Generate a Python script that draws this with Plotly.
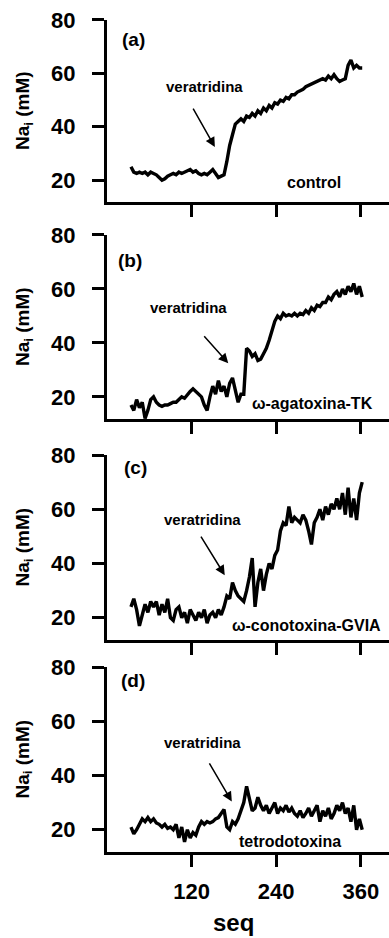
import plotly.graph_objects as go

# Time axis (s) shared by the four recordings
seq = list(range(34, 363, 4))

# Intracellular Na+ (mM) for each condition
na_control = [
    25, 23, 22.5, 23, 22.5, 23, 22, 23, 22.5, 22,
    21, 20, 20.5, 21.5, 22, 22.5, 22, 23, 22.5, 23,
    23.5, 24, 23, 23.5, 22.5, 22, 22.5, 22, 23, 24,
    22.5, 21, 21.5, 22, 27, 33, 37, 41, 42, 43,
    42, 44, 43.5, 45, 44, 46, 45, 47, 46, 48,
    47, 49, 48.5, 50, 49.5, 51, 50.5, 52, 52, 53,
    53.5, 54, 55, 55.5, 56, 56.5, 57, 57.5, 58, 57.5,
    59, 58, 59.5, 58, 57, 57.5, 58, 63, 65, 62,
    63, 62, 62,
]
na_agatoxin = [
    17, 15, 19, 16, 18, 12, 15, 19, 20, 18,
    17, 16.5, 17, 17, 17.5, 18, 18, 19, 20, 19.5,
    21, 22, 23, 22, 21, 20, 17, 15, 20, 24,
    21, 26, 22, 24, 20, 25, 27, 22, 18, 21,
    21, 38, 37, 35, 36, 33.5, 34, 36, 38, 41,
    45, 48, 50, 49, 51, 50, 50.5, 50, 51, 50,
    51, 50.5, 52, 51, 53, 52, 54, 53.5, 55, 55,
    57, 56, 58, 59, 57, 60, 58, 61, 59, 62,
    58, 61, 57,
]
na_conotoxin = [
    24, 27, 23, 17, 21, 25, 22, 26, 24, 26,
    21, 25, 22, 27, 20, 19, 23, 24, 20, 22,
    18, 23, 21, 19, 22, 20, 23, 18, 21, 22,
    20, 23, 21, 24, 28, 27, 33, 30, 28, 27,
    26, 30, 35, 42, 24, 33, 38, 30, 36, 40,
    38, 43, 45, 52, 55, 54, 61, 55, 57, 56,
    55, 58, 56, 52, 47, 55, 57, 60, 56, 61,
    58, 62, 60, 64, 60, 66, 58, 68, 57, 64,
    56, 66, 70,
]
na_ttx = [
    21, 18.5, 20, 22, 24, 23, 24.5, 23, 24, 22.5,
    22, 21, 22, 20.5, 21, 20, 22, 17, 21, 15.5,
    20, 17, 19, 18, 21, 23, 22, 23, 22.5, 23,
    24, 24.5, 26, 27.5, 21, 20, 23, 22, 24, 27,
    30, 36, 31, 27, 28, 32, 29, 27, 29, 26,
    28, 30, 26, 28, 27, 29, 26.5, 28, 26, 25,
    27, 24.5, 26, 28, 25, 27, 29, 23, 27, 25,
    28, 24, 26, 29, 27, 30, 26, 28, 23, 29,
    20, 24, 20,
]

series = [na_control, na_agatoxin, na_conotoxin, na_ttx]
panel_tags = ["(a)", "(b)", "(c)", "(d)"]
toxin_labels = ["control", "ω-agatoxina-TK", "ω-conotoxina-GVIA", "tetrodotoxina"]
y_ticks = [20, 40, 60, 80]
x_ticks = [120, 240, 360]

# Per-panel placement of the text labels and the veratridine arrow (data coords)
tag_pos = [(37, 72.5), (33, 70.6), (41, 75.5), (37, 75)]
verat_pos = [(139, 55), (115, 53.2), (136, 56.3), (135, 52)]
arrow_tail = [(121, 47.4), (136, 43), (132, 50.5), (144, 45)]
arrow_head = [(153, 32.4), (172, 32.5), (167, 35.7), (177, 30.4)]
toxin_pos = [(294, 19.3), (203, 17.7), (175, 17), (259, 15.5)]
toxin_anchor = ["center", "left", "left", "center"]

W, H = 389, 938
ML = 107                     # left margin (px); plot area spans ML..W
PW = W - ML
domains = [(0.7846, 0.9787), (0.5533, 0.7495), (0.3177, 0.5149), (0.0917, 0.2889)]


def px_to_paper_x(px):
    return (px - ML) / PW


FONT = "Liberation Sans, Arial, sans-serif"
fig = go.Figure()
annotations = []

for i, vals in enumerate(series):
    n = "" if i == 0 else str(i + 1)
    xa, ya = "x" + n, "y" + n
    fig.add_trace(go.Scatter(
        x=seq, y=vals, mode="lines", xaxis=xa, yaxis=ya,
        line=dict(color="black", width=3.4), showlegend=False,
        hoverinfo="skip",
    ))
    last = i == len(series) - 1
    fig.layout["xaxis" + n] = dict(
        domain=[0, 1], range=[0, 400], anchor=ya, automargin=False,
        tickvals=x_ticks, showticklabels=last,
        ticks="outside", ticklen=12, tickwidth=3, tickcolor="black",
        showline=True, linewidth=3, linecolor="black",
        showgrid=False, zeroline=False,
        tickfont=dict(family=FONT, size=22, color="black", weight="bold"),
        ticklabelstandoff=6,
    )
    fig.layout["yaxis" + n] = dict(
        domain=list(domains[i]), range=[11.8, 80], anchor=xa, automargin=False,
        tickvals=y_ticks,
        ticks="outside", ticklen=12, tickwidth=3, tickcolor="black",
        showline=True, linewidth=3, linecolor="black",
        showgrid=False, zeroline=False,
        tickfont=dict(family=FONT, size=22, color="black", weight="bold"),
        ticklabelstandoff=12,
    )

    bold = dict(family=FONT, color="black", weight="bold")
    annotations.append(dict(
        xref=xa, yref=ya, x=tag_pos[i][0], y=tag_pos[i][1], text=panel_tags[i],
        showarrow=False, font=dict(size=19, **bold),
    ))
    annotations.append(dict(
        xref=xa, yref=ya, x=verat_pos[i][0], y=verat_pos[i][1], text="veratridina",
        showarrow=False, font=dict(size=15, **bold),
    ))
    annotations.append(dict(
        xref=xa, yref=ya, x=arrow_head[i][0], y=arrow_head[i][1],
        axref=xa, ayref=ya, ax=arrow_tail[i][0], ay=arrow_tail[i][1],
        text="", showarrow=True, arrowhead=2, arrowsize=1.3,
        arrowwidth=1.5, arrowcolor="black",
    ))
    annotations.append(dict(
        xref=xa, yref=ya, x=toxin_pos[i][0], y=toxin_pos[i][1], text=toxin_labels[i],
        xanchor=toxin_anchor[i], showarrow=False, font=dict(size=16, **bold),
    ))
    # y-axis title centred on the panel
    annotations.append(dict(
        xref="paper", yref="paper", x=px_to_paper_x(24), y=sum(domains[i]) / 2,
        text="Na<sub>i</sub> (mM)", textangle=-90, showarrow=False,
        xanchor="center", yanchor="middle",
        font=dict(family=FONT, size=19, color="black", weight="bold"),
    ))

annotations.append(dict(
    xref="paper", yref="paper", x=px_to_paper_x(233), y=0,
    text="seq", showarrow=False, xanchor="center", yanchor="bottom",
    font=dict(family=FONT, size=24, color="black", weight="bold"),
))

fig.update_layout(
    width=W, height=H,
    margin=dict(l=ML, r=0, t=0, b=0, autoexpand=False),
    paper_bgcolor="white", plot_bgcolor="white",
    annotations=annotations,
)

fig.write_html("out.html")
